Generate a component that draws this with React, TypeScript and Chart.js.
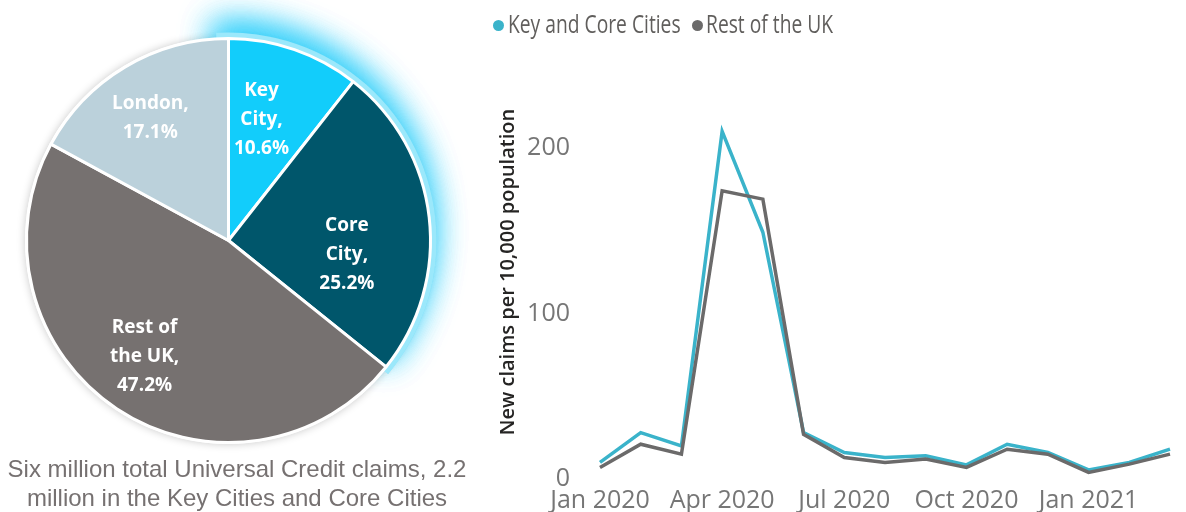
import React, { useEffect, useRef } from 'react';
import { Chart, registerables } from 'chart.js';

Chart.register(...registerables);

// ---------- Pie data ----------
const pieCategories = ['Key City', 'Core City', 'Rest of the UK', 'London'];
const pieShares = [10.6, 25.2, 47.2, 17.1];
const pieColors = ['#12CDFB', '#00566B', '#767170', '#BBD1DB'];
const pieLabelLines = [['Key', 'City,'], ['Core', 'City,'], ['Rest of', 'the UK,'], ['London,']];
const pieLabelRadius = [0.62, 0.59, 0.71, 0.72];
const pieLabelAngleShift = [-3.8, 13.2, 2.2, -1.8];
const pieCaption = ['Six million total Universal Credit claims, 2.2', 'million in the Key Cities and Core Cities'];

// ---------- Line data ----------
const months = [
  'Jan 2020', 'Feb 2020', 'Mar 2020', 'Apr 2020', 'May 2020', 'Jun 2020', 'Jul 2020', 'Aug 2020',
  'Sep 2020', 'Oct 2020', 'Nov 2020', 'Dec 2020', 'Jan 2021', 'Feb 2021', 'Mar 2021',
];
const keyCoreValues = [10, 28, 20, 210, 149, 28, 16, 13, 14, 8.5, 21, 16, 5.5, 10, 18];
const restValues = [7, 21, 15, 174, 169, 27, 13, 10, 12, 7, 18, 15, 4, 9, 15];
const seriesNames = ['Key and Core Cities', 'Rest of the UK'];
const seriesColors = ['#3AB3CA', '#6B6A6A'];
const yTicksShown = [0, 100, 200];
const yTitle = 'New claims per 10,000 population';

const pieEffectsPlugin = {
  id: 'pieEffects',
  beforeDatasetsDraw(chart: any) {
    const ctx = chart.ctx;
    const arcs = chart.getDatasetMeta(0).data;
    if (!arcs.length) return;
    const a0: any = arcs[0];
    const a1: any = arcs[1];
    const R = a0.outerRadius;
    ctx.save();
    ctx.shadowColor = 'rgba(0,0,0,0.22)';
    ctx.shadowBlur = 8;
    ctx.fillStyle = '#ffffff';
    ctx.beginPath();
    ctx.arc(a0.x, a0.y, R + 1.5, 0, Math.PI * 2);
    ctx.fill();
    ctx.restore();

    for (let k = 0; k < 2; k++) {
      ctx.save();
      ctx.shadowColor = 'rgba(40,205,250,0.8)';
      ctx.shadowBlur = 32;
      ctx.shadowOffsetY = -10;
      ctx.shadowOffsetX = -3;
      ctx.fillStyle = '#9BE8FB';
      ctx.beginPath();
      ctx.moveTo(a0.x, a0.y);
      ctx.arc(a0.x, a0.y, R + 6, a0.startAngle - 0.06, a1.endAngle + 0.02);
      ctx.closePath();
      ctx.fill();
      ctx.restore();
    }
  },
  afterDatasetsDraw(chart: any) {
    const ctx = chart.ctx;
    const arcs = chart.getDatasetMeta(0).data;
    ctx.save();
    ctx.fillStyle = '#ffffff';
    ctx.font = 'bold 19px "Open Sans"';
    ctx.textAlign = 'center';
    ctx.textBaseline = 'middle';
    arcs.forEach((arc: any, i: number) => {
      const mid = (arc.startAngle + arc.endAngle) / 2 + (pieLabelAngleShift[i] * Math.PI) / 180;
      const r = arc.outerRadius * pieLabelRadius[i];
      const cx = arc.x + Math.cos(mid) * r;
      const cy = arc.y + Math.sin(mid) * r;
      const lines = [...pieLabelLines[i], pieShares[i].toFixed(1) + '%'];
      const lh = 29;
      lines.forEach((t, j) => ctx.fillText(t, cx, cy + (j - (lines.length - 1) / 2) * lh));
    });
    ctx.restore();
  },
};

export default function App() {
  const pieRef = useRef<HTMLCanvasElement>(null);
  const lineRef = useRef<HTMLCanvasElement>(null);

  useEffect(() => {
    document.body.style.margin = '0';
    const pie = new Chart(pieRef.current!, {
      type: 'pie',
      data: {
        labels: pieCategories,
        datasets: [
          {
            data: pieShares,
            backgroundColor: pieColors,
            borderColor: '#ffffff',
            borderWidth: 3,
          },
        ],
      },
      options: {
        responsive: false,
        animation: false,
        events: [],
        layout: { padding: { left: 25, top: 37, right: 38, bottom: 16 } },
        plugins: { legend: { display: false }, tooltip: { enabled: false } },
      },
      plugins: [pieEffectsPlugin],
    });

    const line = new Chart(lineRef.current!, {
      type: 'line',
      data: {
        labels: months,
        datasets: [
          {
            label: seriesNames[1],
            data: restValues,
            borderColor: seriesColors[1],
            borderWidth: 3.5,
            pointRadius: 0,
            tension: 0,
            fill: false,
          },
          {
            label: seriesNames[0],
            data: keyCoreValues,
            borderColor: seriesColors[0],
            borderWidth: 3.5,
            pointRadius: 0,
            tension: 0,
            fill: false,
          },
        ],
      },
      options: {
        responsive: false,
        animation: false,
        events: [],
        layout: { padding: { left: 0, top: 65, right: 16, bottom: 0 } },
        plugins: { legend: { display: false }, tooltip: { enabled: false } },
        scales: {
          x: {
            type: 'category',
            offset: false,
            grid: { display: false, drawTicks: false },
            border: { display: false },
            ticks: {
              autoSkip: false,
              maxRotation: 0,
              padding: 7,
              color: '#767676',
              font: { family: '"Open Sans"', size: 25 },
              callback: (_v: any, i: number) => (i % 3 === 0 ? months[i] : ''),
            },
          },
          y: {
            min: 0,
            max: 250,
            grid: { display: false, drawTicks: false },
            border: { display: false },
            afterFit: (s: any) => {
              s.width = 120;
            },
            ticks: {
              stepSize: 100,
              padding: 30,
              color: '#767676',
              font: { family: '"Open Sans"', size: 25 },
              callback: (v: any) => (yTicksShown.includes(v) ? String(v) : ''),
            },
            title: {
              display: true,
              text: yTitle,
              color: '#252423',
              font: { family: '"Open Sans"', size: 20, weight: '600' },
              padding: { top: 16, bottom: 0 },
            },
          },
        },
      },
    });

    return () => {
      pie.destroy();
      line.destroy();
    };
  }, []);

  const legendItem = (i: number, dotX: number, textX: number) => (
    <React.Fragment key={i}>
      <span
        style={{
          position: 'absolute',
          left: dotX - 5.5,
          top: 25 - 5.5,
          width: 11,
          height: 11,
          borderRadius: '50%',
          background: seriesColors[i],
        }}
      />
      <span
        style={{
          position: 'absolute',
          left: textX,
          top: 11,
          fontFamily: '"Open Sans"',
          fontSize: 25,
          lineHeight: '25px',
          color: '#605E5C',
          whiteSpace: 'nowrap',
          transform: 'scaleX(0.77)',
          transformOrigin: 'left center',
        }}
      >
        {seriesNames[i]}
      </span>
    </React.Fragment>
  );

  return (
    <div style={{ position: 'relative', width: 1186, height: 512, overflow: 'hidden', background: '#ffffff' }}>
      <canvas ref={pieRef} width={470} height={460} style={{ position: 'absolute', left: 0, top: 0 }} />
      <div
        style={{
          position: 'absolute',
          left: 0,
          width: 474,
          top: 454,
          textAlign: 'center',
          fontFamily: 'Arial, "Liberation Sans", sans-serif',
          fontSize: 24,
          lineHeight: '29px',
          color: '#767171',
          whiteSpace: 'nowrap',
        }}
      >
        {pieCaption.map((t, i) => (
          <div key={i}>{t}</div>
        ))}
      </div>
      <canvas ref={lineRef} width={706} height={524} style={{ position: 'absolute', left: 480, top: 0 }} />
      {legendItem(0, 498, 508)}
      {legendItem(1, 697, 706)}
    </div>
  );
}
